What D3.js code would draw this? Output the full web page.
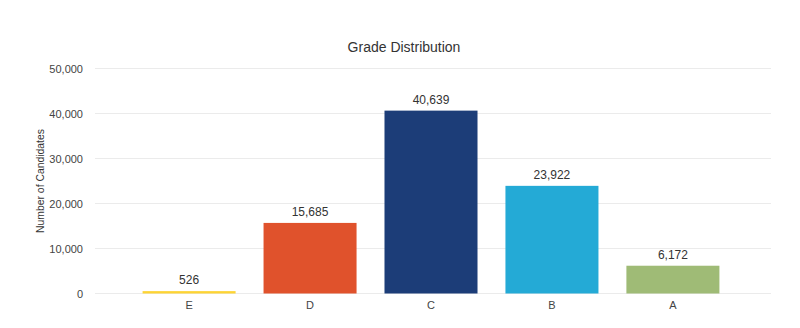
<!DOCTYPE html>
<html><head><meta charset="utf-8">
<script src="https://cdn.jsdelivr.net/npm/d3@7"></script>
<style>body{margin:0;background:#fff;font-family:"Liberation Sans",Arial,sans-serif;}</style>
</head><body><svg id="c" width="800" height="328"></svg>
<script>
const categories = ["E","D","C","B","A"];
const values = [526, 15685, 40639, 23922, 6172];
const colors = ["#FDD434","#E0522C","#1C3D78","#24AAD6","#9FBB76"];
const yTicks = [0,10000,20000,30000,40000,50000];

const svg = d3.select("#c");
const x = d3.scaleBand().domain(categories).range([93,769]).paddingInner(0.231).paddingOuter(0.41);
const y = d3.scaleLinear().domain([0,50000]).range([293.5,68.5]);
const fmt = d3.format(",");

svg.append("g").selectAll("line").data(yTicks).join("line")
  .attr("x1",95).attr("x2",771).attr("y1",d=>y(d)).attr("y2",d=>y(d))
  .attr("stroke","#ebebeb").attr("stroke-width",1);

const yAxis = svg.append("g").attr("transform","translate(95,0)")
  .call(d3.axisLeft(y).tickValues(yTicks).tickFormat(fmt).tickSize(0).tickPadding(12));
yAxis.select(".domain").remove();
yAxis.selectAll("text").attr("font-size",11).attr("fill","#444").attr("font-family","Liberation Sans, Arial, sans-serif");

svg.append("g").selectAll("rect").data(values).join("rect")
  .attr("x",(d,i)=>x(categories[i])).attr("width",x.bandwidth())
  .attr("y",d=>y(d)).attr("height",d=>y(0)-y(d))
  .attr("fill",(d,i)=>colors[i]);

svg.append("g").selectAll("text").data(values).join("text")
  .attr("x",(d,i)=>x(categories[i])+x.bandwidth()/2).attr("y",d=>y(d)-7)
  .attr("text-anchor","middle").attr("font-size",12).attr("fill","#333").text(d=>fmt(d));

const xAxis = svg.append("g").attr("transform","translate(0,293.5)")
  .call(d3.axisBottom(x).tickSize(0).tickPadding(8));
xAxis.select(".domain").remove();
xAxis.selectAll("text").attr("font-size",11).attr("fill","#444").attr("font-family","Liberation Sans, Arial, sans-serif");

svg.append("text").attr("x",404).attr("y",52).attr("text-anchor","middle")
  .attr("font-size",14).attr("fill","#333").text("Grade Distribution");

svg.append("text").attr("transform","translate(44,181) rotate(-90)").attr("text-anchor","middle")
  .attr("font-size",10.4).attr("fill","#333").text("Number of Candidates");
</script></body></html>
